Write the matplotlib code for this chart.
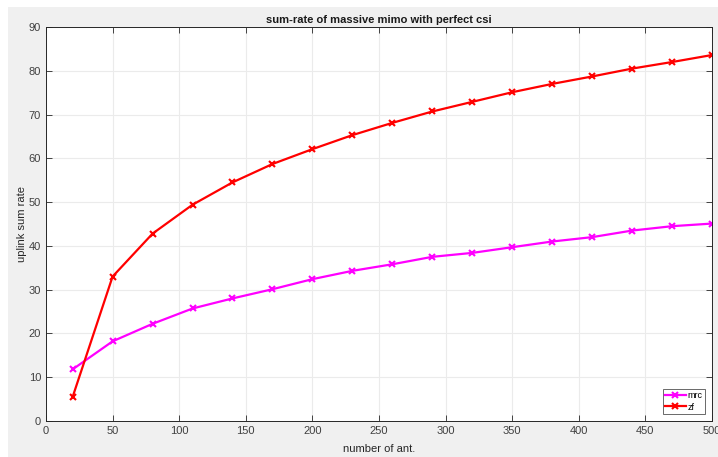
import matplotlib.pyplot as plt
from matplotlib.patches import Rectangle

# número de antenas
antenas = [20, 50, 80, 110, 140, 170, 200, 230, 260, 290, 320, 350, 380, 410, 440, 470, 500]

# sum-rate por detector
mrc = [11.8, 18.2, 22.2, 25.7, 28.0, 30.1, 32.4, 34.3, 35.8, 37.5, 38.4, 39.7, 41.0, 42.0, 43.5, 44.5, 45.1]
zf = [5.5, 33.0, 42.8, 49.4, 54.5, 58.7, 62.1, 65.3, 68.1, 70.7, 72.9, 75.1, 77.0, 78.7, 80.5, 82.0, 83.6]

xticks = list(range(0, 501, 50))
yticks = list(range(0, 91, 10))

plt.rcParams["font.family"] = ["Liberation Sans", "DejaVu Sans"]

fig = plt.figure(figsize=(7.18, 4.57), dpi=100, facecolor="white")
# fondo gris estilo MATLAB con un borde blanco arriba y a la izquierda
fig.patches.append(Rectangle((8 / 718, 0), 1 - 8 / 718, 1 - 7 / 457,
                             transform=fig.transFigure, facecolor="#f0f0f0",
                             edgecolor="none", zorder=-10))

ax = fig.add_axes([46 / 718, 36 / 457, 666 / 718, 394 / 457])
ax.set_facecolor("white")

ax.plot(antenas, mrc, color="#ff00ff", lw=1.6, marker="x", ms=5, mew=1.5, label="mrc")
ax.plot(antenas, zf, color="#ff0000", lw=1.6, marker="x", ms=5, mew=1.5, label="zf")

ax.set_xlim(0, 500)
ax.set_ylim(0, 90)
ax.set_xticks(xticks)
ax.set_yticks(yticks)
ax.grid(True, color="#ebebeb", lw=0.8)
ax.set_axisbelow(True)
ax.tick_params(direction="in", top=True, right=True, labelsize=8,
               colors="#262626", labelcolor="#404040", length=4, width=0.6)
for s in ax.spines.values():
    s.set_color("#262626")
    s.set_linewidth(0.7)

ax.set_title("sum-rate of massive mimo with perfect csi", fontsize=8,
             fontweight="bold", color="#1a1a1a", pad=3)
ax.set_xlabel("number of ant.", fontsize=8, color="#262626", labelpad=6)
ax.set_ylabel("uplink sum rate", fontsize=8, color="#262626")
ax.yaxis.set_label_coords(-0.028, 0.5)

leg = ax.legend(loc="lower right", fontsize=6.5, frameon=True, fancybox=False,
                handlelength=2.3, borderpad=0.25, labelspacing=0.25,
                handletextpad=0.2, borderaxespad=0.8)
leg.get_frame().set_edgecolor("#262626")
leg.get_frame().set_linewidth(0.6)

fig.savefig("out.png", dpi=100, facecolor=fig.get_facecolor())
